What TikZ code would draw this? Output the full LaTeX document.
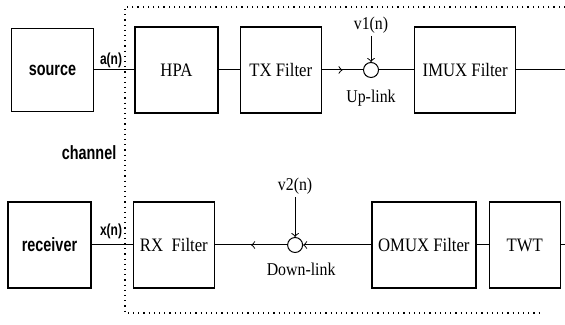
\documentclass[tikz,border=0pt]{standalone}
\usepackage{fontspec}
\setmainfont[FakeStretch=0.88]{Liberation Serif}
\newfontfamily\narrowsans[FakeStretch=0.75]{Liberation Sans}
\usetikzlibrary{positioning,decorations.markings}

\tikzset{
	block/.style={draw, line width=0.7pt, minimum height=43pt, inner sep=1pt, font=\fontsize{9.5}{11}\selectfont},
	endpoint/.style={block, font=\narrowsans\bfseries\fontsize{9.6}{11}\selectfont},
	adder/.style={draw, circle, minimum size=7.5pt, inner sep=0pt},
	sig/.style={inner sep=1pt, font=\fontsize{9}{10}\selectfont},
	tag/.style={inner sep=1pt, font=\narrowsans\bfseries\fontsize{8}{9}\selectfont},
	midarrow/.style={postaction={decorate}, decoration={markings, mark=at position 0.5 with {\arrow{>}}}}
}

\begin{document}
\begin{tikzpicture}[>=to, line width=0.5pt]
	\useasboundingbox (0,0) rectangle (282.5pt,162.5pt);

	%% UP-LINK
	\node[endpoint, minimum width=41pt, minimum height=41.5pt] (source) at (26.25pt,127.5pt) {source};
	\node[block, minimum width=41.5pt, right=20pt of source] (hpa) {HPA};
	\node[block, minimum width=40.5pt, right=10.5pt of hpa] (txf) {TX Filter};
	\node[adder, right=20.5pt of txf] (up) {};
	\node[block, minimum width=50.5pt, right=17.5pt of up] (imux) {IMUX Filter};
	\coordinate (up_out) at (282.5pt,127.5pt);

	\node[sig, above=13pt of up] (v1) {v1(n)};
	\node[sig, below=5pt of up] (up_lbl) {Up-link};

	\draw (source) -- (hpa);
	\draw (hpa) -- (txf);
	\draw[midarrow] (txf) -- (up);
	\draw (up) -- (imux);
	\draw (imux) -- (up_out);
	\draw[->] (v1) -- (up);

	%% DOWN-LINK
	\node[endpoint, minimum width=41.5pt] (receiver) at (24.75pt,40pt) {receiver};
	\node[block, minimum width=40.5pt, right=20.5pt of receiver] (rxf) {RX\ \ Filter};
	\node[adder, right=36pt of rxf] (down) {};
	\node[block, minimum width=52pt, right=34pt of down] (omux) {OMUX Filter};
	\node[block, minimum width=35.5pt, right=6pt of omux] (twt) {TWT};
	\coordinate (down_out) at (282.5pt,40pt);

	\node[sig, above=20pt of down] (v2) {v2(n)};
	\node[sig, below=4pt of down, xshift=3pt] (down_lbl) {Down-link};

	\draw (down_out) -- (twt);
	\draw (twt) -- (omux);
	\draw[->] (omux) -- (down);
	\draw[midarrow] (down) -- (rxf);
	\draw (rxf) -- (receiver);
	\draw[->] (v2) -- (down);

	%% CHANNEL
	\coordinate (ch_tr) at (282.5pt,159pt);
	\coordinate (ch_tl) at (62.5pt,159pt);
	\coordinate (ch_bl) at (62.5pt,6pt);
	\coordinate (ch_br) at (270pt,6pt);
	\draw[dotted, line width=0.6pt] (ch_tr) -- (ch_tl) -- (ch_bl) -- (ch_br);

	\node[endpoint, draw=none, minimum height=0pt, anchor=east] (chan) at (59.5pt,86pt) {channel};
	\node[tag] (an) at (55.5pt,132.5pt) {a(n)};
	\node[tag] (xn) at (55.5pt,47pt) {x(n)};

\end{tikzpicture}
\end{document}
